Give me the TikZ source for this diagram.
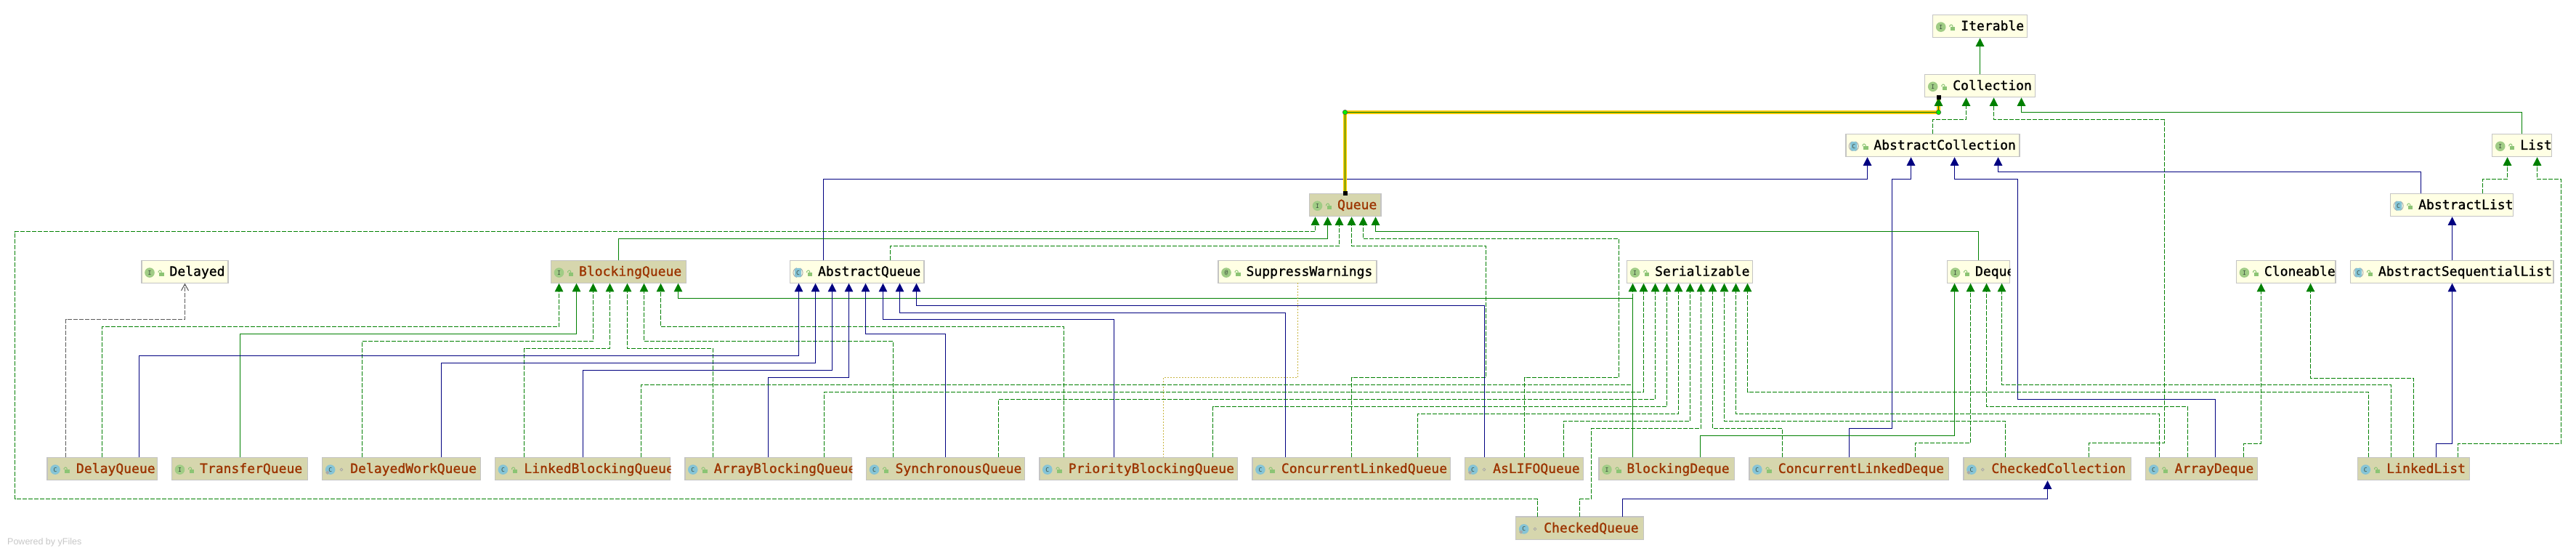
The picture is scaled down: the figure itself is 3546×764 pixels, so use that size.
\documentclass[tikz,border=0pt]{standalone}
\usepackage{fontspec}
\usetikzlibrary{arrows.meta}
\newfontfamily\monofam[FakeBold=1.2]{DejaVu Sans Mono}
\newfontfamily\monoicon{DejaVu Sans Mono}
\newfontfamily\sansfam{Liberation Sans}
\definecolor{boxline}{HTML}{C4C4C4}
\definecolor{plainfill}{HTML}{FFFFE4}
\definecolor{selfill}{HTML}{D6D6AD}
\definecolor{seltext}{HTML}{9C3400}
\definecolor{igreen}{HTML}{A0CC85}
\definecolor{cblue}{HTML}{85C4D6}
\definecolor{lockg}{HTML}{8CC474}
\definecolor{lettc}{HTML}{3A4A3A}
\definecolor{egreen}{HTML}{008000}
\definecolor{eblue}{HTML}{000080}
\definecolor{hly}{HTML}{FFC800}
\definecolor{dotg}{HTML}{00F000}
\definecolor{oliv}{HTML}{C8B440}
\definecolor{pingray}{HTML}{A8A8A8}
\tikzset{
  plainbox/.style={draw=boxline,line width=1.4,fill=plainfill,text=black,inner sep=0,outer sep=0,anchor=north west},
  selbox/.style={draw=boxline,line width=1.4,fill=selfill,text=seltext,inner sep=0,outer sep=0,anchor=north west},
  icotxt/.style={inner sep=0,outer sep=0,font=\monoicon\fontsize{8}{9}\selectfont,text=lettc},
  conn/.style={line width=1.05,line join=miter,shorten >=0.6pt},
  gimpl/.style={conn,draw=egreen,dash pattern=on 6pt off 2pt,-{Triangle[length=11.5pt,width=11.5pt,fill=egreen]}},
  gext/.style={conn,draw=egreen,-{Triangle[length=11.5pt,width=11.5pt,fill=egreen]}},
  bext/.style={conn,draw=eblue,-{Triangle[length=11.5pt,width=11.5pt,fill=eblue]}},
  gdep/.style={conn,draw=black!65,dash pattern=on 6pt off 2pt,-{Straight Barb[length=9pt,width=10pt]}},
  odot/.style={line width=1,draw=oliv,dash pattern=on 1.5pt off 2.5pt},
  hilite/.style={line width=4.6,draw=hly},
  hdot/.style={circle,fill=dotg,draw=black!70,line width=.5,minimum size=6.5pt,inner sep=0,outer sep=0},
  hsq/.style={fill=black,draw=none,minimum size=6pt,inner sep=0,outer sep=0},
}
\newcommand\lockicon{%
  \fill[lockg] (24.3,16.9) rectangle (30.7,21.9);
  \draw[lockg,line width=1,rounded corners=1.5pt] (23.2,17) -- (23.2,13.8) -- (27.2,13.8) -- (27.2,17);
}
\newcommand\iconI[1]{\begin{scope}[shift={(#1.north west)}]
  \fill[igreen] (11,16.9) circle (6.8);
  \node[icotxt,name=#1-glyph] at (11,16.9) {I};\lockicon\end{scope}}
\newcommand\iconAt[1]{\begin{scope}[shift={(#1.north west)}]
  \fill[igreen] (11,16.9) circle (6.8);
  \node[icotxt,name=#1-glyph] at (11,16.9) {@};\lockicon\end{scope}}
\newcommand\iconC[1]{\begin{scope}[shift={(#1.north west)}]
  \fill[cblue] (11,16.9) circle (6.8);
  \node[icotxt,name=#1-glyph] at (11,16.9) {C};\lockicon\end{scope}}
\newcommand\iconA[1]{\begin{scope}[shift={(#1.north west)}]
  \draw[pingray,line width=.9] (11,16.9) circle (6.6);
  \fill[plainfill] (9,9) rectangle (13,25);
  \fill[cblue,rounded corners=3pt] (6.3,10.6) rectangle (15.7,23.2);
  \node[icotxt,name=#1-glyph] at (11,16.9) {C};\lockicon\end{scope}}
\newcommand\iconP[1]{\begin{scope}[shift={(#1.north west)}]
  \fill[cblue] (11,16.9) circle (6.8);
  \node[icotxt,name=#1-glyph] at (11,16.9) {C};
  \fill[pingray] (4.4,21) -- (7,18.4) -- (9.6,21) -- (7,23.6) -- cycle;
  \draw[pingray,line width=.8] (26.3,16.9) circle (1.9);\end{scope}}
% style, name, x1, x2, y1, y2, icon, text
\newcommand\cls[8]{%
  \pgfmathsetmacro\wdbox{#4-#3}\pgfmathsetmacro\htbox{#6-#5}%
  \ifx#7\iconC\def\txoff{40pt}\else\def\txoff{38.5pt}\fi
  \begin{scope}
  \clip (#3-1,#5-1) rectangle (#4+1,#6+1);
  \node[#1,minimum width=\wdbox pt,minimum height=\htbox pt] (#2) at (#3,#5)
    {\makebox[\wdbox pt][l]{\hspace{\txoff}\monofam\fontsize{18.05}{20}\selectfont\rule[-8.2pt]{0pt}{28.2pt}#8}};
  \end{scope}
  #7{#2}}
% style, source, source x, channel y, target, target x  (all snapped to pixel centres)
\newcommand\link[6]{%
  \pgfmathsetmacro\sxa{floor(#3)+.5}\pgfmathsetmacro\sya{floor(#4)+.5}\pgfmathsetmacro\dxa{floor(#6)+.5}%
  \draw[#1] (#2.north -| \sxa,0) -- (\sxa,\sya) -- (\dxa,\sya) -- (#5.south -| \dxa,0);}
% style, source, source x, y1, x2, y2, target, target x
\newcommand\linkz[8]{%
  \pgfmathsetmacro\sxa{floor(#3)+.5}\pgfmathsetmacro\sya{floor(#4)+.5}%
  \pgfmathsetmacro\sxb{floor(#5)+.5}\pgfmathsetmacro\syb{floor(#6)+.5}\pgfmathsetmacro\dxa{floor(#8)+.5}%
  \draw[#1] (#2.north -| \sxa,0) -- (\sxa,\sya) -- (\sxb,\sya) -- (\sxb,\syb) -- (\dxa,\syb) -- (#7.south -| \dxa,0);}
\begin{document}
\begin{tikzpicture}[x=1pt,y=-1pt]
\useasboundingbox (0,0) rectangle (3546,764);
\fill[white] (0,0) rectangle (3546,764);
% top
\cls{plainbox}{Iterable}{2660.7}{2790.3}{20.2}{51.7}{\iconI}{Iterable}
\cls{plainbox}{Collection}{2649.7}{2801.7}{102.3}{133.7}{\iconI}{Collection}
\cls{plainbox}{AbstractCollection}{2540.8}{2780}{184.3}{215.7}{\iconA}{AbstractCollection}
\cls{plainbox}{List}{3430.7}{3512.7}{184.3}{215.7}{\iconI}{List}
\cls{selbox}{Queue}{1802.5}{1901}{266.3}{297.7}{\iconI}{Queue}
\cls{plainbox}{AbstractList}{3290.6}{3459.5}{266.3}{297.7}{\iconA}{AbstractList}
% middle row
\cls{plainbox}{Delayed}{195}{314}{358.2}{389.2}{\iconI}{Delayed}
\cls{selbox}{BlockingQueue}{758.5}{944.5}{358.2}{389.2}{\iconI}{BlockingQueue}
\cls{plainbox}{AbstractQueue}{1087.5}{1272}{358.2}{389.2}{\iconA}{AbstractQueue}
\cls{plainbox}{SuppressWarnings}{1677}{1895}{358.2}{389.2}{\iconAt}{SuppressWarnings}
\cls{plainbox}{Serializable}{2239.6}{2412.4}{358.2}{389.2}{\iconI}{Serializable}
\cls{plainbox}{Deque}{2680.5}{2766.6}{358.2}{389.2}{\iconI}{Deque}
\cls{plainbox}{Cloneable}{3078.4}{3214.8}{358.2}{389.2}{\iconI}{Cloneable}
\cls{plainbox}{AbstractSequentialList}{3235.4}{3514.8}{358.2}{389.2}{\iconA}{AbstractSequentialList}
% bottom row
\cls{selbox}{DelayQueue}{65}{216.4}{629.2}{660.7}{\iconC}{DelayQueue}
\cls{selbox}{TransferQueue}{236.5}{423.7}{629.2}{660.7}{\iconI}{TransferQueue}
\cls{selbox}{DelayedWorkQueue}{443.7}{661.3}{629.2}{660.7}{\iconP}{DelayedWorkQueue}
\cls{selbox}{LinkedBlockingQueue}{681.4}{922.7}{629.2}{660.7}{\iconC}{LinkedBlockingQueue}
\cls{selbox}{ArrayBlockingQueue}{942.8}{1172.4}{629.2}{660.7}{\iconC}{ArrayBlockingQueue}
\cls{selbox}{SynchronousQueue}{1192.5}{1410.7}{629.2}{660.7}{\iconC}{SynchronousQueue}
\cls{selbox}{PriorityBlockingQueue}{1430.8}{1703.2}{629.2}{660.7}{\iconC}{PriorityBlockingQueue}
\cls{selbox}{ConcurrentLinkedQueue}{1723.9}{1996.6}{629.2}{660.7}{\iconC}{ConcurrentLinkedQueue}
\cls{selbox}{AsLIFOQueue}{2016.6}{2179.7}{629.2}{660.7}{\iconP}{AsLIFOQueue}
\cls{selbox}{BlockingDeque}{2200.9}{2387.5}{629.2}{660.7}{\iconI}{BlockingDeque}
\cls{selbox}{ConcurrentLinkedDeque}{2407.8}{2682.2}{629.2}{660.7}{\iconC}{ConcurrentLinkedDeque}
\cls{selbox}{CheckedCollection}{2702.9}{2933.6}{629.2}{660.7}{\iconP}{CheckedCollection}
\cls{selbox}{ArrayDeque}{2953.6}{3107.7}{629.2}{660.7}{\iconC}{ArrayDeque}
\cls{selbox}{LinkedList}{3245.3}{3399.4}{629.2}{660.7}{\iconC}{LinkedList}
\cls{selbox}{CheckedQueue}{2086.7}{2262.3}{711}{742.3}{\iconP}{CheckedQueue}
% watermark
\node[anchor=west,inner sep=0,text=black!22,font=\sansfam\fontsize{12.5}{14}\selectfont] (yfiles) at (10,746.7) {Powered by yFiles};
% Collection family
\draw[gext] (Collection.north -| 2725.5,0) -- (Iterable.south -| 2725.5,0);
\link{gimpl}{AbstractCollection}{2660.7}{164.3}{Collection}{2706.3}
\linkz{gimpl}{CheckedCollection}{2875.7}{609.3}{2979.6}{164.3}{Collection}{2744.3}
\link{gext}{List}{3471.5}{154.3}{Collection}{2782.3}
\link{gimpl}{AbstractList}{3417.5}{246.4}{List}{3451.3}
\linkz{gimpl}{LinkedList}{3383.3}{610.3}{3525.5}{246.4}{List}{3492.5}
\draw[bext] (AbstractSequentialList.north -| 3375.5,0) -- (AbstractList.south -| 3375.5,0);
\link{bext}{LinkedList}{3353.7}{610.3}{AbstractSequentialList}{3375.5}
% AbstractCollection
\link{bext}{AbstractQueue}{1133.4}{246.3}{AbstractCollection}{2570.2}
\linkz{bext}{ConcurrentLinkedDeque}{2545.6}{589.3}{2604.7}{246.3}{AbstractCollection}{2630.3}
\linkz{bext}{ArrayDeque}{3049.6}{549.7}{2777.4}{246.3}{AbstractCollection}{2690.3}
\link{bext}{AbstractList}{3332.6}{236.3}{AbstractCollection}{2750.3}
% Cloneable
\link{gimpl}{ArrayDeque}{3088.3}{610.3}{Cloneable}{3112.2}
\link{gimpl}{LinkedList}{3322.3}{520.5}{Cloneable}{3180.6}
% Queue
\draw[gimpl] (CheckedQueue.north -| 2116.5,0) -- (2116.5,686.5) -- (20.5,686.5) -- (20.5,318.5) -- (1810.5,318.5) -- (Queue.south -| 1810.5,0);
\link{gext}{BlockingQueue}{851.5}{328.3}{Queue}{1827.3}
\link{gimpl}{AbstractQueue}{1225.3}{338.3}{Queue}{1843.3}
\linkz{gimpl}{ConcurrentLinkedQueue}{1860.5}{519.7}{2045.4}{338.3}{Queue}{1860.1}
\linkz{gimpl}{AsLIFOQueue}{2098.7}{519.7}{2228.5}{328.3}{Queue}{1876.7}
\link{gext}{Deque}{2723.5}{318.3}{Queue}{1893.3}
% BlockingQueue
\link{gimpl}{DelayQueue}{140.6}{449.7}{BlockingQueue}{769.5}
\link{gext}{TransferQueue}{330.7}{459.7}{BlockingQueue}{793}
\link{gimpl}{DelayedWorkQueue}{498.3}{469.7}{BlockingQueue}{816.5}
\link{gimpl}{LinkedBlockingQueue}{721.6}{479.7}{BlockingQueue}{839.5}
\link{gimpl}{ArrayBlockingQueue}{981.3}{479.7}{BlockingQueue}{863}
\link{gimpl}{SynchronousQueue}{1229.3}{469.7}{BlockingQueue}{886.6}
\link{gimpl}{PriorityBlockingQueue}{1464.7}{449.7}{BlockingQueue}{909.5}
\link{gext}{BlockingDeque}{2247.5}{410}{BlockingQueue}{933.2}
% Delayed
\link{gdep}{DelayQueue}{90.7}{439.7}{Delayed}{254.3}
% AbstractQueue
\link{bext}{DelayQueue}{191.7}{489.7}{AbstractQueue}{1099}
\link{bext}{DelayedWorkQueue}{607.4}{499.7}{AbstractQueue}{1122}
\link{bext}{LinkedBlockingQueue}{802.5}{509.7}{AbstractQueue}{1145}
\link{bext}{ArrayBlockingQueue}{1057.6}{519.7}{AbstractQueue}{1168.4}
\link{bext}{SynchronousQueue}{1301.6}{459.7}{AbstractQueue}{1191.4}
\link{bext}{PriorityBlockingQueue}{1533.4}{439.7}{AbstractQueue}{1215}
\link{bext}{ConcurrentLinkedQueue}{1769.2}{430}{AbstractQueue}{1238}
\link{bext}{AsLIFOQueue}{2043.6}{420}{AbstractQueue}{1261}
% SuppressWarnings
\draw[odot] (SuppressWarnings.south -| 1786.5,0) -- (1786.5,519.5) -- (1601.5,519.5) -- (PriorityBlockingQueue.north -| 1601.5,0);
% Serializable
\link{gimpl}{LinkedBlockingQueue}{882.5}{529.7}{Serializable}{2247}
\link{gimpl}{ArrayBlockingQueue}{1134.6}{539.7}{Serializable}{2262.6}
\link{gimpl}{SynchronousQueue}{1374.5}{549.7}{Serializable}{2278.6}
\link{gimpl}{PriorityBlockingQueue}{1669.3}{559.7}{Serializable}{2294.7}
\link{gimpl}{ConcurrentLinkedQueue}{1951.8}{569.7}{Serializable}{2310.2}
\link{gimpl}{AsLIFOQueue}{2152.7}{579.3}{Serializable}{2326.3}
\draw[gimpl] (CheckedQueue.north -| 2174.5,0) -- (2174.5,686.5) -- (2190.5,686.5) -- (2190.5,589.5) -- (2341.5,589.5) -- (Serializable.south -| 2341.5,0);
\link{gimpl}{ConcurrentLinkedDeque}{2453.7}{589.3}{Serializable}{2357.9}
\link{gimpl}{CheckedCollection}{2760.9}{579.3}{Serializable}{2373.4}
\link{gimpl}{ArrayDeque}{2972.7}{569.7}{Serializable}{2389.4}
\link{gimpl}{LinkedList}{3260.5}{539.7}{Serializable}{2405.5}
% Deque
\link{gext}{BlockingDeque}{2340.5}{599.3}{Deque}{2690.8}
\link{gimpl}{ConcurrentLinkedDeque}{2636.3}{609.3}{Deque}{2712.6}
\link{gimpl}{ArrayDeque}{3011.7}{559.7}{Deque}{2734.4}
\link{gimpl}{LinkedList}{3291.4}{529.7}{Deque}{2755.7}
% CheckedQueue to CheckedCollection
\link{bext}{CheckedQueue}{2233.6}{686.3}{CheckedCollection}{2818.3}
% highlighted edge Queue to Collection
\draw[hilite] (Queue.north -| 1851.5,0) -- (1851.5,154.5) -- (2668.5,154.5) -- (Collection.south -| 2668.5,0);
\draw[gext] (Queue.north -| 1851.5,0) -- (1851.5,154.5) -- (2668.5,154.5) -- (Collection.south -| 2668.5,0);
\node[hdot] (bendA) at (1851.5,154.5) {};
\node[hdot] (bendB) at (2668.5,154.5) {};
\node[hsq] (endA) at (Queue.north -| 1851.5,0) {};
\node[hsq] (endB) at (Collection.south -| 2668.5,0) {};
\end{tikzpicture}
\end{document}
